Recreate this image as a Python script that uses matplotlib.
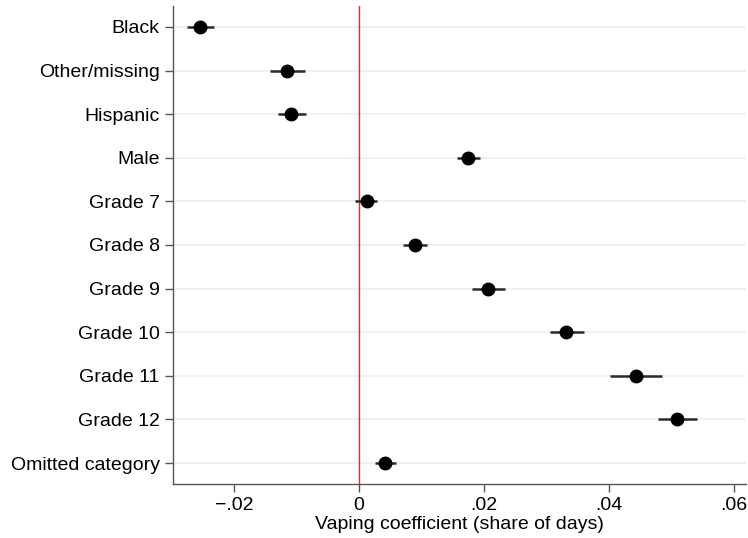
import matplotlib.pyplot as plt

plt.rcParams['font.family'] = ['Liberation Sans', 'DejaVu Sans']

# coefficients and 95% CI
labels = ['Black', 'Other/missing', 'Hispanic', 'Male', 'Grade 7', 'Grade 8',
          'Grade 9', 'Grade 10', 'Grade 11', 'Grade 12', 'Omitted category']
coef = [-0.0254, -0.0115, -0.0109, 0.0174, 0.0012, 0.0090,
        0.0207, 0.0331, 0.0443, 0.0509, 0.0041]
ci_lo = [-0.0275, -0.0142, -0.0130, 0.0156, -0.0006, 0.0071,
         0.0181, 0.0305, 0.0402, 0.0478, 0.0025]
ci_hi = [-0.0233, -0.0087, -0.0085, 0.0194, 0.0029, 0.0108,
         0.0234, 0.0360, 0.0485, 0.0541, 0.0059]
xticks = [-0.02, 0, 0.02, 0.04, 0.06]
xticklabels = ['\u2212.02', '0', '.02', '.04', '.06']

fig = plt.figure(figsize=(7.48, 5.38), dpi=100)
ax = fig.add_axes([0.2313, 0.1004, 0.7657, 0.8885])

ypos = list(range(1, len(labels) + 1))

for y in ypos:
    ax.axhline(y, color='#eaf1f3', lw=1.2, zorder=0)
ax.axvline(0, color='#e8282b', lw=1, zorder=1)

ax.hlines(ypos, ci_lo, ci_hi, color='#2b2b2b', lw=1.8, zorder=2)
ax.plot(coef, ypos, 'o', color='black', markersize=9, zorder=3)

ax.set_ylim(len(labels) + 0.48, 0.52)
ax.set_xlim(-0.0298, 0.0619)
ax.set_yticks(ypos)
ax.set_yticklabels(labels, fontsize=14)
ax.set_xticks(xticks)
ax.set_xticklabels(xticklabels, fontsize=14)
ax.set_xlabel('Vaping coefficient (share of days)', fontsize=14, labelpad=1)

for s in ['top', 'right']:
    ax.spines[s].set_visible(False)
for s in ['left', 'bottom']:
    ax.spines[s].set_color('#555555')
    ax.spines[s].set_linewidth(1)
ax.tick_params(direction='out', length=5.5, width=1, color='#555555', pad=4)

fig.savefig('out.png', dpi=100)
